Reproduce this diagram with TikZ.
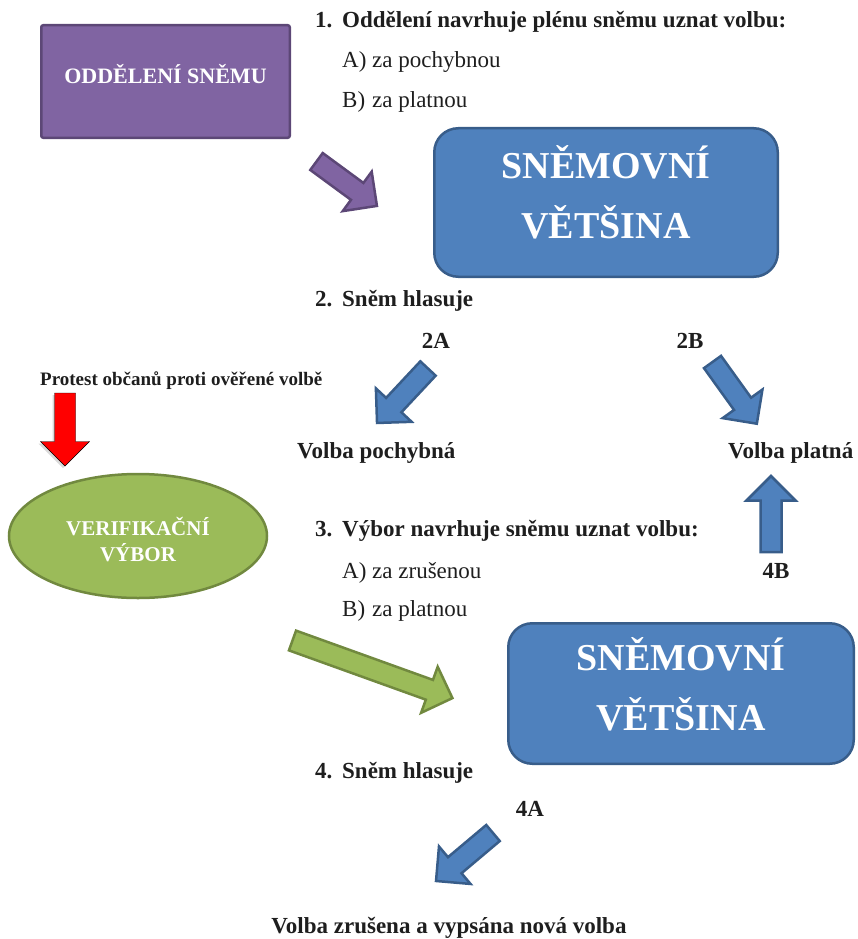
\documentclass[tikz,border=0pt]{standalone}
\usepackage{fontspec}
\setmainfont{Liberation Serif}
\usetikzlibrary{shapes.geometric,shadows}

% block arrow: tail point, angle, length
\newcommand{\blockarrow}[4][]{%
    \begin{scope}[shift={#2}, rotate=#3]
        \draw[#1] (0,-\shaftw) -- ({#4-\headl},-\shaftw) -- ({#4-\headl},-\headw) -- (#4,0)
            -- ({#4-\headl},\headw) -- ({#4-\headl},\shaftw) -- (0,\shaftw) -- cycle;
    \end{scope}}

\begin{document}
\begin{tikzpicture}[x=1pt, y=-1pt,
    plain/.style={inner sep=0, anchor=base west, text=textgray, font=\fontsize{23}{28}\selectfont},
    bold/.style={plain, font=\bfseries\fontsize{23}{28}\selectfont},
    tag/.style={bold, anchor=base},
    snembox/.style={draw=blueline, fill=bluefill, line width=2.5, rounded corners=24,
        text=white, align=center, font=\bfseries\fontsize{38}{60}\selectfont, text depth=20pt}]
    \def\shaftw{10.5}
    \def\headw{24.5}
    \def\headl{24.5}
    \definecolor{textgray}{RGB}{30, 30, 30}
    \definecolor{purplefill}{HTML}{8064A2}
    \definecolor{purpleline}{HTML}{5C4776}
    \definecolor{bluefill}{HTML}{4F81BD}
    \definecolor{blueline}{HTML}{385D8A}
    \definecolor{greenfill}{HTML}{9BBB59}
    \definecolor{greenline}{HTML}{71893F}
    \useasboundingbox (0,0) rectangle (858,939);

    % Draw the chamber department box
    \node[draw=purpleline, fill=purplefill, line width=2.5, rounded corners=2, minimum width=248.5, minimum height=112.5,
        text=white, font=\bfseries\fontsize{22}{26}\selectfont, text depth=16pt] (oddeleni) at (165.5, 81.5) {ODDĚLENÍ SNĚMU};

    % Step 1
    \node[bold] (n1) at (315, 28) {1.};
    \node[bold] (t1) at (342, 28) {Oddělení navrhuje plénu sněmu uznat volbu:};
    \node[plain] (l1a) at (342, 68) {A)};
    \node[plain] (t1a) at (372, 68) {za pochybnou};
    \node[plain] (l1b) at (342, 108) {B)};
    \node[plain] (t1b) at (372, 108) {za platnou};

    \blockarrow[fill=purplefill, draw=purpleline, line width=2.5]{(316.5, 161.5)}{-36.3}{75}
    \node[snembox, minimum width=343.5, minimum height=148.5] (vetsina1) at (606, 202.5) {SNĚMOVNÍ\\VĚTŠINA};

    % Step 2
    \node[bold] (n2) at (315, 306) {2.};
    \node[bold] (t2) at (342, 306) {Sněm hlasuje};
    \node[tag] (tag2a) at (436, 348) {2A};
    \node[tag] (tag2b) at (690, 348) {2B};
    \blockarrow[fill=bluefill, draw=blueline, line width=2.5]{(428, 368.5)}{-133.1}{74.6}
    \blockarrow[fill=bluefill, draw=blueline, line width=2.5]{(712.5, 362)}{-54.3}{76}
    \node[bold] (pochybna) at (297, 458) {Volba pochybná};
    \node[bold] (platna) at (728, 458) {Volba platná};

    % Protest and the verification committee
    \node[bold, font=\bfseries\fontsize{19}{23}\selectfont] (protest) at (40, 385) {Protest občanů proti ověřené volbě};
    \blockarrow[fill=red, drop shadow={opacity=0.3, shadow xshift=-2pt, shadow yshift=-2pt}]{(65, 393)}{-90}{73}
    \node[ellipse, draw=greenline, fill=greenfill, line width=2.5, minimum width=258, minimum height=124, inner sep=0,
        text=white, align=center, font=\bfseries\fontsize{21}{26}\selectfont, text height=51pt] (vybor) at (138, 536) {VERIFIKAČNÍ\\VÝBOR};

    % Step 3
    \node[bold] (n3) at (315, 536) {3.};
    \node[bold] (t3) at (342, 536) {Výbor navrhuje sněmu uznat volbu:};
    \node[plain] (l3a) at (342, 578) {A)};
    \node[plain] (t3a) at (372, 578) {za zrušenou};
    \node[plain] (l3b) at (342, 616) {B)};
    \node[plain] (t3b) at (372, 616) {za platnou};
    \blockarrow[fill=bluefill, draw=blueline, line width=2.5]{(771, 552)}{90}{76}
    \node[tag] (tag4b) at (776, 578) {4B};

    \blockarrow[fill=greenfill, draw=greenline, line width=2.5]{(292.5, 640.5)}{-19.8}{170}
    \node[snembox, minimum width=345.5, minimum height=140.5] (vetsina2) at (681, 693.5) {SNĚMOVNÍ\\VĚTŠINA};

    % Step 4
    \node[bold] (n4) at (315, 778) {4.};
    \node[bold] (t4) at (342, 778) {Sněm hlasuje};
    \node[tag] (tag4a) at (530, 816) {4A};
    \blockarrow[fill=bluefill, draw=blueline, line width=2.5]{(493, 833)}{-139.9}{74.5}
    \node[tag] (zrusena) at (449, 933) {Volba zrušena a vypsána nová volba};
\end{tikzpicture}
\end{document}
